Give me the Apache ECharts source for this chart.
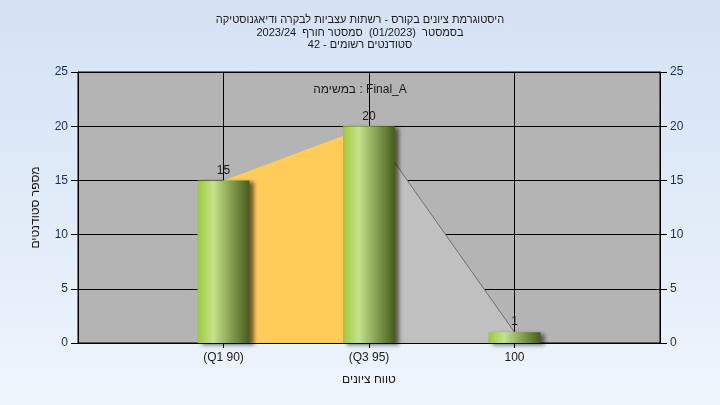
<!DOCTYPE html>
<html>
<head>
<meta charset="utf-8">
<script src="https://cdn.jsdelivr.net/npm/echarts@6/dist/echarts.min.js"></script>
<style>
html,body{margin:0;padding:0;}
#chart{width:720px;height:405px;background:linear-gradient(to bottom,#d4e2f4 0%,#eef5fd 100%);}
</style>
</head>
<body>
<div id="chart"></div>
<script>
// ---- data ----
const titleLines = [
  'היסטוגרמת ציונים בקורס - רשתות עצביות לבקרה ודיאגנוסטיקה',
  'בסמסטר  (01/2023)  סמסטר חורף  2023/24',
  'סטודנטים רשומים - 42'
];
const subTitle = 'במשימה : Final_A';
const categories = ['', '(Q1 90)', '(Q3 95)', '100', ''];
const counts = [null, 15, 20, 1, null];
const q1ToQ3Area = [null, 15, 20, null, null];
const q3ToMaxArea = [null, null, 20, 1, null];
const yMin = 0, yMax = 25, yInterval = 5;
const xAxisName = 'טווח ציונים';
const yAxisName = 'מספר סטודנטים';

const FONT = '"Liberation Sans", Arial, sans-serif';
const rtl = s => '\u202B' + s + '\u202C';

const chart = echarts.init(document.getElementById('chart'), null, {renderer: 'canvas'});

const barGradient = new echarts.graphic.LinearGradient(0, 0, 1, 0, [
  {offset: 0, color: '#9cc83a'},
  {offset: 0.3, color: '#c6e28e'},
  {offset: 0.65, color: '#849f4e'},
  {offset: 1, color: '#485c1e'}
]);

const yAxisCommon = {
  type: 'value', min: yMin, max: yMax, interval: yInterval,
  axisLine: {show: true, lineStyle: {color: '#000', width: 1}},
  axisTick: {show: true, inside: false, length: 7, lineStyle: {color: '#000'}},
  axisLabel: {color: '#1c2c58', fontSize: 12, fontFamily: FONT, margin: 10}
};

chart.setOption({
  backgroundColor: 'transparent',
  animation: false,
  title: [
    {
      text: titleLines.map(rtl).join('\n'),
      left: 'center', top: 9,
      textStyle: {fontSize: 11, fontWeight: 'normal', color: '#1a1a1a', fontFamily: FONT, lineHeight: 12.5}
    },
    {
      text: subTitle,
      left: 'center', top: 79,
      textStyle: {fontSize: 12, fontWeight: 'normal', color: '#1a1a1a', fontFamily: FONT}
    }
  ],
  grid: {
    left: 78, right: 60, top: 72, bottom: 62,
    show: true, backgroundColor: '#b4b4b4', borderColor: '#000', borderWidth: 1
  },
  xAxis: {
    type: 'category', data: categories, boundaryGap: false,
    name: xAxisName, nameLocation: 'middle', nameGap: 31,
    nameTextStyle: {color: '#1a1a1a', fontSize: 12, fontFamily: FONT},
    axisLine: {show: true, lineStyle: {color: '#000', width: 1}},
    axisTick: {show: true, length: 5, interval: i => i > 0 && i < categories.length - 1, lineStyle: {color: '#000'}},
    axisLabel: {color: '#1a1a1a', fontSize: 12, fontFamily: FONT, margin: 9, interval: 0},
    splitLine: {show: true, interval: 0, lineStyle: {color: '#000', width: 1}}
  },
  yAxis: [
    Object.assign({}, yAxisCommon, {
      position: 'left',
      name: yAxisName, nameLocation: 'middle', nameGap: 36,
      nameTextStyle: {color: '#1a1a1a', fontSize: 12, fontFamily: FONT},
      splitLine: {show: true, lineStyle: {color: '#000', width: 1}}
    }),
    Object.assign({}, yAxisCommon, {
      position: 'right',
      splitLine: {show: false}
    })
  ],
  series: [
    {
      type: 'line', data: q1ToQ3Area, symbol: 'none', z: 1,
      lineStyle: {width: 0},
      areaStyle: {color: '#ffcc5a', opacity: 1}
    },
    {
      type: 'line', data: q3ToMaxArea, symbol: 'none', z: 1,
      lineStyle: {width: 1, color: '#6e6e6e'},
      areaStyle: {color: '#c0c0c0', opacity: 1}
    },
    {
      type: 'bar', data: counts, barWidth: 52, z: 3,
      itemStyle: {
        color: barGradient,
        shadowColor: 'rgba(0,0,0,0.55)', shadowBlur: 4, shadowOffsetX: 4, shadowOffsetY: 2
      },
      label: {show: true, position: 'top', distance: 4, color: '#1a1a1a', fontSize: 12, fontFamily: FONT}
    }
  ]
});
</script>
</body>
</html>
